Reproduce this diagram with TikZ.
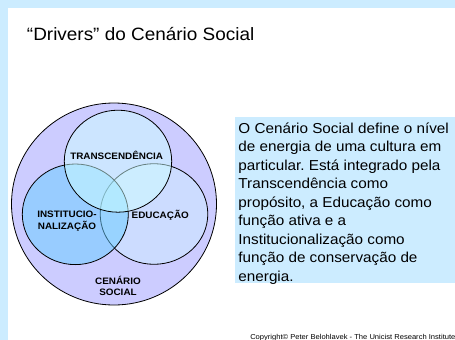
\documentclass[tikz,border=0pt]{standalone}
\usepackage{fontspec}
\setmainfont{Liberation Sans}[FakeStretch=1.06]
\frenchspacing
\definecolor{frameblue}{HTML}{CCECFF}
\definecolor{lavender}{HTML}{CCCCFF}
\definecolor{paleaqua}{HTML}{CCFFFF}
\definecolor{midblue}{HTML}{66CCFF}
\begin{document}
\begin{tikzpicture}[x=0.75pt,y=-0.75pt,
  ring/.style={draw=black,line width=0.6pt},
  lbl/.style={font=\fontsize{7}{8.6}\selectfont\bfseries,align=center,inner sep=0},
]
\useasboundingbox (0,0) rectangle (455,340);
\fill[white] (0,0) rectangle (455,340);
\fill[frameblue] (0,0) rectangle (455,8);
\fill[frameblue] (0,0) rectangle (8,340);
% title
\node[anchor=base west,inner sep=0,font=\fontsize{13.4}{16}\selectfont] (title) at (26.7,40) {“Drivers” do Cenário Social};
% outer circle
\draw[ring,fill=lavender] (114,204) ellipse [x radius=102.5,y radius=101];
% right, left, top circles
\draw[ring,fill=paleaqua,fill opacity=0.33] (154,214) ellipse [x radius=53.8,y radius=50.3];
\draw[ring,fill=midblue,fill opacity=0.5] (75.3,214.3) ellipse [x radius=53,y radius=50.3];
\draw[ring,fill=paleaqua,fill opacity=0.5] (118,161.2) ellipse [x radius=53.7,y radius=51];
% labels
\node[lbl] (trans) at (116.7,155.7) {TRANSCENDÊNCIA};
\node[lbl] (inst) at (67,221) {INSTITUCIO-\\NALIZAÇÃO};
\node[lbl] (edu) at (160.3,215) {EDUCAÇÃO};
\node[lbl] (cen) at (118,286) {CENÁRIO\\SOCIAL};
% text box
\fill[frameblue] (235,116.7) rectangle (455,283.3);
\node[anchor=base west,inner sep=0,align=left,font=\fontsize{10.8}{13.875}\selectfont] (desc) at (238.2,281.3)
{O Cenário Social define o nível\\
de energia de uma cultura em\\
particular. Está integrado pela\\
Transcendência como\\
propósito, a Educação como\\
função ativa e a\\
Institucionalização como\\
função de conservação de\\
energia.};
% copyright
\node[anchor=base west,inner sep=0,font=\fontsize{5.36}{6}\selectfont] (copy) at (250,339.5) {Copyright© Peter Belohlavek - The Unicist Research Institute};
\end{tikzpicture}
\end{document}
